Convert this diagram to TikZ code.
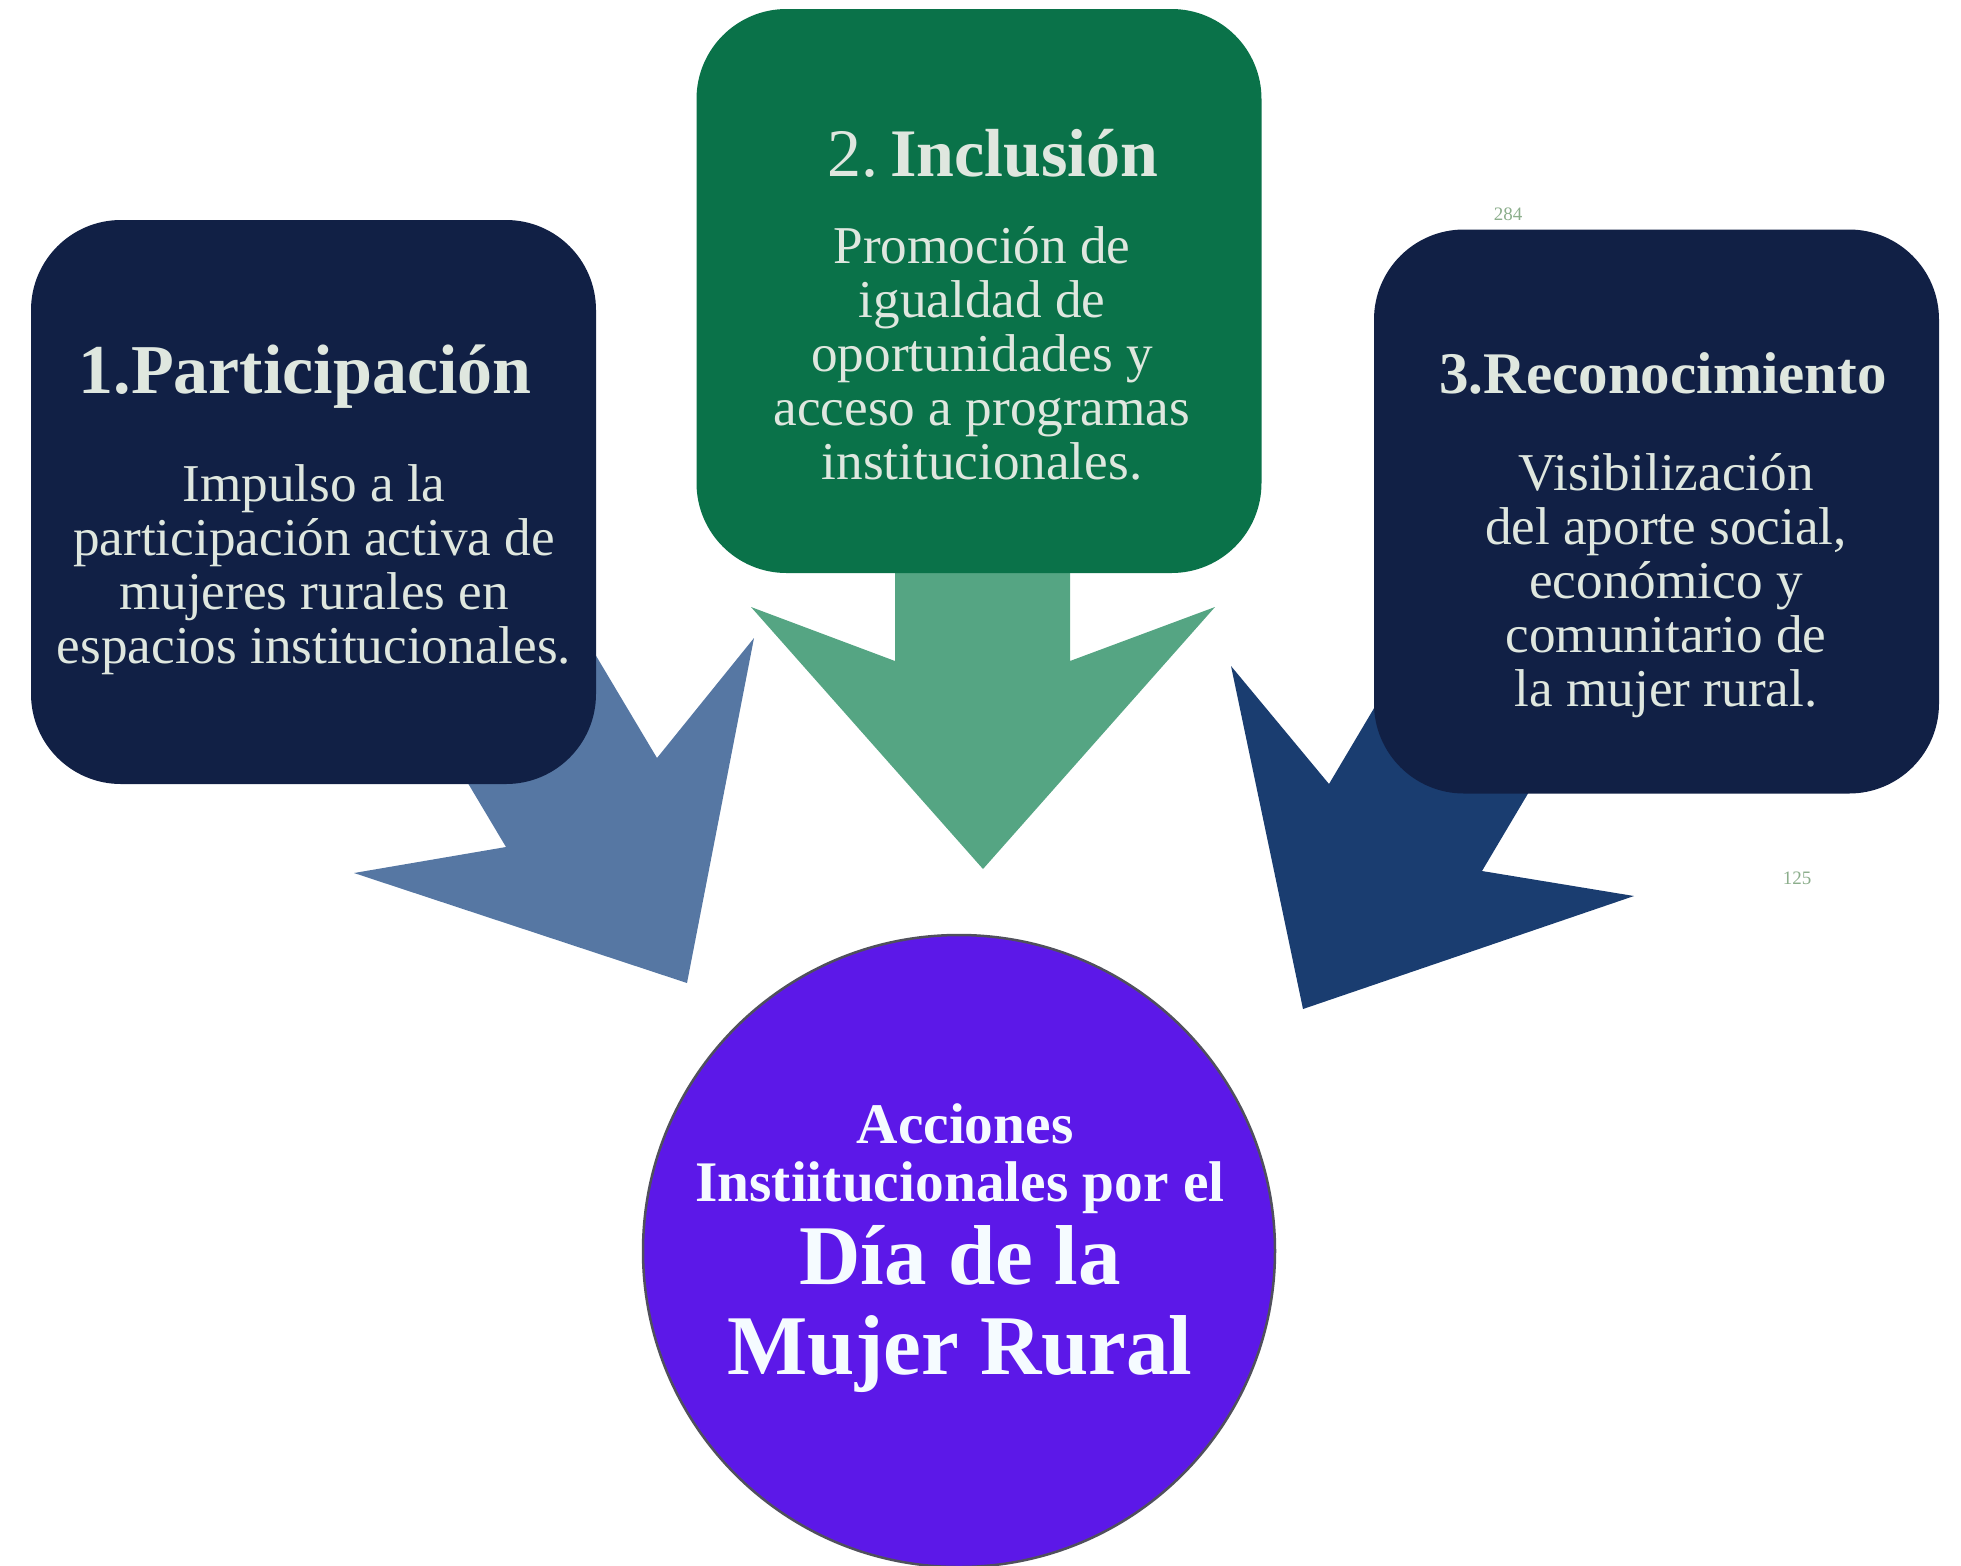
\documentclass[tikz,border=0pt]{standalone}
\usepackage{fontspec}
\setmainfont{Liberation Serif}
\usepackage{xcolor}
\usetikzlibrary{positioning}
\definecolor{azulcaja}{HTML}{112045}
\definecolor{verdecaja}{HTML}{0A7249}
\definecolor{verdeflecha}{HTML}{55A583}
\definecolor{azulclaro}{HTML}{5677A3}
\definecolor{azuloscuro}{HTML}{1A3D70}
\definecolor{morado}{HTML}{5C18E8}
\definecolor{borde}{HTML}{50505C}
\definecolor{textoclaro}{HTML}{DFE7DF}
\definecolor{textoblanco}{HTML}{F5FBFF}
\definecolor{gris}{HTML}{8CAE8C}

\begin{document}
\begin{tikzpicture}[x=0.5pt,y=-0.5pt]
\tikzset{BoxStyle/.style={rounded corners=45pt, minimum width=282.5pt, minimum height=282pt, inner sep=0pt},
  TitleStyle/.style={text=textoclaro, inner sep=0pt, anchor=base},
  BodyStyle/.style={text=textoclaro, align=center, inner sep=0pt, font=\fontsize{26.6}{27}\selectfont},
  CircleText/.style={text=textoblanco, inner sep=0pt, anchor=base}}
\useasboundingbox (0,0) rectangle (1961,1565);
\fill[azulclaro] (524,535) -- (657,758) -- (754,638) -- (687,983) -- (354,873) -- (506,847) -- (373,624) -- cycle;
\fill[verdeflecha] (895,500) -- (895,661) -- (751,607) -- (983,869) -- (1215,607) -- (1070,661) -- (1070,500) -- cycle;
\fill[azuloscuro] (1462,560) -- (1329,784) -- (1231,666) -- (1303,1009) -- (1634,896) -- (1482,871) -- (1615,647) -- cycle;
\node[BoxStyle, fill=azulcaja] (participacion) at (313.5,502) {};
\node[BoxStyle, fill=verdecaja] (inclusion) at (979,291) {};
\node[BoxStyle, fill=azulcaja] (reconocimiento) at (1656.5,511.5) {};
\node[TitleStyle, font=\bfseries\fontsize{35}{35}\selectfont] (t1) at (305,393) {1.Participación};
\node[TitleStyle, font=\fontsize{34}{34}\selectfont] (t2) at (993,176) {2.\,\textbf{Inclusión}};
\node[TitleStyle, font=\bfseries\fontsize{29.5}{30}\selectfont] (t3) at (1663,393) {3.Reconocimiento};
\node[BodyStyle] (b1) at (314,570) {Impulso a la\\participación activa de\\mujeres rurales en\\espacios institucionales.};
\node[BodyStyle] (b2) at (982,353) {Promoción de\\igualdad de\\oportunidades y\\acceso a programas\\institucionales.};
\node[BodyStyle] (b3) at (1666,586) {Visibilización\\del aporte social,\\económico y\\comunitario de\\la mujer rural.};
\node[circle, fill=morado, draw=borde, line width=1.25pt, minimum size=316pt, inner sep=0pt] (centro) at (959,1251) {};
\node[CircleText, font=\bfseries\fontsize{28.7}{29}\selectfont] (c1) at (965,1143) {Acciones};
\node[CircleText, font=\bfseries\fontsize{28.7}{29}\selectfont] (c2) at (960,1201) {Instiitucionales por el};
\node[CircleText, font=\bfseries\fontsize{42.5}{43}\selectfont] (c3) at (960,1284) {Día de la};
\node[CircleText, font=\bfseries\fontsize{42.5}{43}\selectfont] (c4) at (960,1374) {Mujer Rural};
\node[text=gris, inner sep=0pt, font=\fontsize{9.5}{10}\selectfont] (n1) at (1508,214) {284};
\node[text=gris, inner sep=0pt, font=\fontsize{9.5}{10}\selectfont] (n2) at (1797,878) {125};
\end{tikzpicture}
\end{document}
